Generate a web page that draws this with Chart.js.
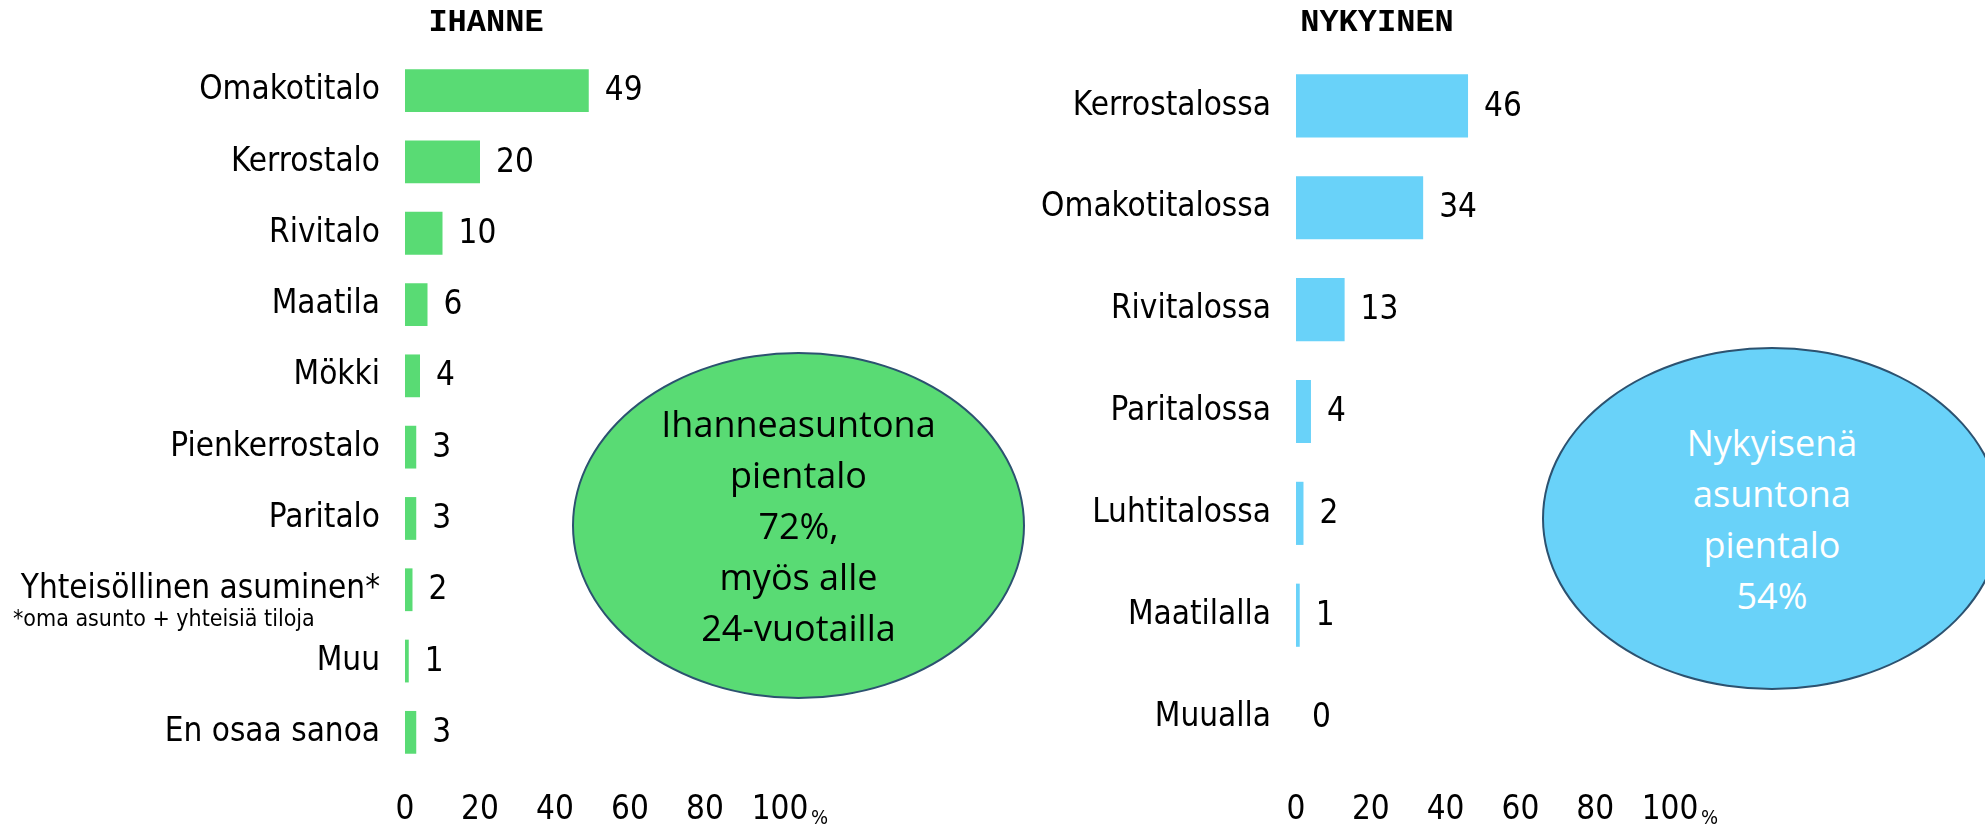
<!DOCTYPE html>
<html>
<head>
<meta charset="utf-8">
<script src="https://cdn.jsdelivr.net/npm/chart.js@4/dist/chart.umd.min.js"></script>
<style>
  body { margin: 0; background: #fff; width: 1985px; height: 825px; overflow: hidden; position: relative; }
  canvas { position: absolute; top: 0; }
  #ihanne { left: 0; }
  #nykyinen { left: 985px; }
  .oval {
    position: absolute; box-sizing: border-box; border: 2px solid #2c5270; border-radius: 50%;
    display: flex; align-items: center; justify-content: center; text-align: center;
    font-family: "Open Sans", sans-serif; font-size: 36px; line-height: 51px;
  }
  #ovalGreen { left: 572px; top: 352px; width: 453px; height: 347px; background: #59db74; color: #000; }
  #ovalBlue { left: 1542px; top: 347px; width: 460px; height: 343px; background: #69d2f9; color: #fff; }
</style>
</head>
<body>
<canvas id="ihanne" width="970" height="825"></canvas>
<canvas id="nykyinen" width="786" height="825"></canvas>
<div class="oval" id="ovalGreen"><div>Ihanneasuntona<br>pientalo<br>72%,<br>myös alle<br>24-vuotailla</div></div>
<div class="oval" id="ovalBlue"><div>Nykyisenä<br>asuntona<br>pientalo<br>54%</div></div>
<script>
const ihanneLabels = ['Omakotitalo', 'Kerrostalo', 'Rivitalo', 'Maatila', 'Mökki', 'Pienkerrostalo', 'Paritalo', 'Yhteisöllinen asuminen*', 'Muu', 'En osaa sanoa']
const ihanneValues = [49, 20, 10, 6, 4, 3, 3, 2, 1, 3]
const nykyinenLabels = ['Kerrostalossa', 'Omakotitalossa', 'Rivitalossa', 'Paritalossa', 'Luhtitalossa', 'Maatilalla', 'Muualla']
const nykyinenValues = [46, 34, 13, 4, 2, 1, 0]
const xTicks = [0, 20, 40, 60, 80, 100]
const footnote = '*oma asunto + yhteisiä tiloja'

const family = '"DejaVu Sans Condensed", "DejaVu Sans", sans-serif'
const labelFont = { family: family, size: 33 }

// chart heading, value labels next to the bars, the small % after the last tick
const barExtras = {
  id: 'barExtras',
  afterDatasetsDraw(chart, args, opts) {
    const ctx = chart.ctx
    const area = chart.chartArea
    const meta = chart.getDatasetMeta(0)
    const values = chart.data.datasets[0].data
    ctx.save()
    ctx.fillStyle = '#000'
    ctx.textAlign = 'center'
    ctx.textBaseline = 'middle'
    ctx.font = 'bold 32px "Liberation Mono", monospace'
    ctx.fillText(opts.title, area.left + 81, 23)

    ctx.font = '33px ' + family
    ctx.textAlign = 'left'
    meta.data.forEach((bar, i) => {
      ctx.fillText(values[i], bar.x + 16, bar.y + 1)
    })
    const xs = chart.scales.x
    const last = xTicks[xTicks.length - 1]
    ctx.font = '20px ' + family
    ctx.textBaseline = 'alphabetic'
    ctx.fillText('%', xs.getPixelForValue(last) + 31, xs.top + 56)
    if (opts.note) {
      const ys = chart.scales.y
      ctx.font = '23px ' + family
      ctx.textBaseline = 'middle'
      ctx.fillText(opts.note.text, 13, ys.getPixelForValue(opts.note.index) + 30)
    }
    ctx.restore()
  }
}

function makeChart(el, title, labels, values, color, axisWidth, rightPad, barPct, note) {
  return new Chart(el, {
    type: 'bar',
    data: {
      labels: labels,
      datasets: [{
        data: values,
        backgroundColor: color,
        barPercentage: barPct,
        categoryPercentage: 1
      }]
    },
    options: {
      indexAxis: 'y',
      responsive: false,
      animation: false,
      layout: { padding: { top: 55, right: rightPad, bottom: 0, left: 0 } },
      plugins: {
        legend: { display: false },
        tooltip: { enabled: false },
        title: { display: false },
        barExtras: { title: title, note: note }
      },
      scales: {
        x: {
          min: 0,
          max: 100,
          afterBuildTicks: s => { s.ticks = xTicks.map(v => ({ value: v })) },
          afterFit: s => { s.height = 57 },
          grid: { display: false, drawTicks: false },
          border: { display: false },
          ticks: { color: '#000', font: labelFont, padding: 23, autoSkip: false, maxRotation: 0 }
        },
        y: {
          afterFit: s => { s.width = axisWidth },
          grid: { display: false, drawTicks: false },
          border: { display: false },
          ticks: { color: '#000', font: labelFont, padding: 25, autoSkip: false }
        }
      }
    },
    plugins: [barExtras]
  })
}

makeChart(document.getElementById('ihanne'), 'IHANNE', ihanneLabels, ihanneValues, '#59db74', 405, 190, 0.6, { text: footnote, index: 7 })
makeChart(document.getElementById('nykyinen'), 'NYKYINEN', nykyinenLabels, nykyinenValues, '#69d2f9', 311, 101, 0.62, null)
</script>
</body>
</html>
